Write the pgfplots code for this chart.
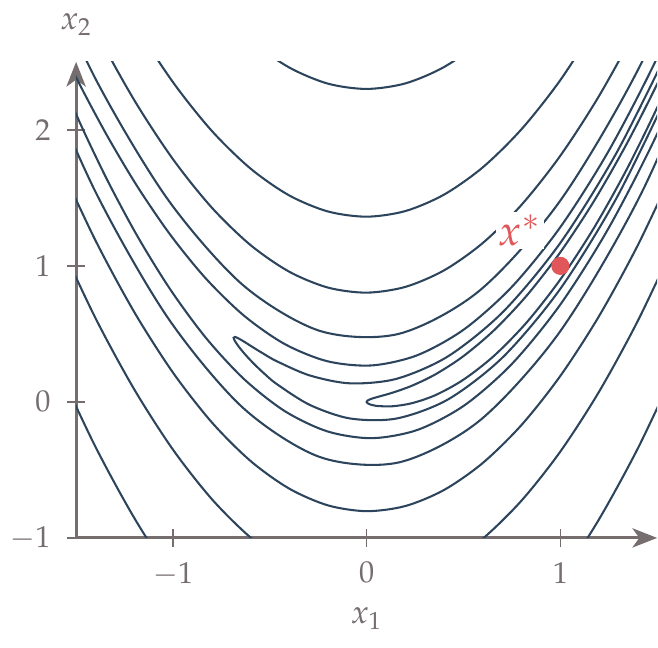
\documentclass[border=0pt]{standalone}
\usepackage{mathpazo}
\usepackage{pgfplots}
\pgfplotsset{compat=1.18}
\usetikzlibrary{arrows.meta}
\definecolor{axisgray}{RGB}{118,110,110}
\definecolor{cline}{RGB}{44,68,92}
\definecolor{optred}{RGB}{225,87,89}
\pgfplotsset{lvl/.style={cline, solid, mark=none, line width=0.75pt, smooth}}
\begin{document}
\begin{tikzpicture}
\path[use as bounding box] (-27.7pt,-40pt) rectangle (211.8pt,195.8pt);
\begin{axis}[
  scale only axis, width=211.5pt, height=173.3pt,
  xmin=-1.5, xmax=1.5, ymin=-1, ymax=2.5,
  axis lines=left,
  axis line style={axisgray, line width=1.1pt, -{Stealth[length=9pt,width=7pt,inset=2.5pt]}},
  xtick={-1,0,1}, ytick={-1,0,1,2},
  tick align=center, major tick length=6.5pt,
  tick style={axisgray, line width=0.5pt},
  tick label style={text=axisgray, font={\fontsize{11pt}{13pt}\selectfont}},
  xticklabel style={yshift=-2pt},
  yticklabel style={xshift=-2.5pt},
  xlabel={$x_1$}, ylabel={$x_2$},
  label style={text=axisgray, font={\fontsize{12pt}{14pt}\selectfont}},
  xlabel style={yshift=-1pt},
  ylabel style={rotate=-90, at={(axis description cs:0,1)}, anchor=south, yshift=6pt},
]
% level 1
\addplot[lvl] coordinates {(1.6428,2.6222) (1.5,2.1634) (1.3420,1.7071) (1.1737,1.2790) (1.0,0.9) (0.8264,0.5844) (0.6580,0.3390) (0.5,0.1634) (0.3572,0.0510) (0.2340,-0.0095) (0.1340,-0.0320) (0.0603,-0.0306) (0.0341,-0.0247) (0.0152,-0.0171) (0.0038,-0.0087) (0,0)
  (0.0038,0.0087) (0.0152,0.0176) (0.0341,0.0270) (0.0603,0.0378) (0.1340,0.0680) (0.2340,0.1190) (0.3572,0.2042) (0.5,0.3366) (0.6580,0.5269) (0.8264,0.7813) (1.0,1.1) (1.1737,1.4759) (1.3420,1.8950) (1.5,2.3366) (1.6428,2.7754)};
% level 2.845
\addplot[lvl] coordinates {(1.5769,2.3281) (1.2929,1.5055) (1.0,0.8313) (0.7071,0.3339) (0.4231,0.0205) (0.1567,-0.1215) (-0.0842,-0.1221) (-0.2921,-0.0231) (-0.4607,0.1279) (-0.5287,0.2082) (-0.5850,0.2846) (-0.6292,0.3523) (-0.6611,0.4077) (-0.6803,0.4481) (-0.6867,0.4716)
  (-0.6803,0.4775) (-0.6611,0.4663) (-0.6292,0.4396) (-0.5850,0.3999) (-0.5287,0.3508) (-0.4607,0.2966) (-0.2921,0.1937) (-0.0842,0.1363) (0.1567,0.1706) (0.4231,0.3375) (0.7071,0.6661) (1.0,1.1687) (1.2929,1.8377) (1.5769,2.6451)};
% level 8.09
\addplot[lvl] coordinates {(-1.5785,2.6119) (-1.4639,2.2851) (-1.3305,1.9334) (-1.1794,1.5738) (-1.0117,1.2248) (-0.8287,0.9048) (-0.6318,0.6323) (-0.4225,0.4249) (-0.2024,0.2988) (0.0270,0.2681) (0.2637,0.3443) (0.5060,0.5362) (0.7520,0.8490) (1.0,1.2845) (1.2480,1.8409) (1.4940,2.5123) (1.7363,3.2897)};
\addplot[lvl] coordinates {(-1.5785,2.3714) (-1.4639,2.0006) (-1.3305,1.6070) (-1.1794,1.2081) (-1.0117,0.8224) (-0.8287,0.4689) (-0.6318,0.1662) (-0.4225,-0.0679) (-0.2024,-0.2169) (0.0270,-0.2666) (0.2637,-0.2053) (0.5060,-0.0242) (0.7520,0.2821) (1.0,0.7155) (1.2480,1.2740) (1.4940,1.9520) (1.7363,2.7401)};
% level 23.0
\addplot[lvl] coordinates {(-1.7526,3.4648) (-1.3995,2.3742) (-1.0282,1.4920) (-0.6414,0.8623) (-0.2421,0.5222) (0.1667,0.5004) (0.5817,0.8165) (1.0,1.4799) (1.4183,2.4896) (1.8334,3.8338)};
\addplot[lvl] coordinates {(-1.7526,2.6785) (-1.3995,1.5430) (-1.0282,0.6222) (-0.6414,-0.0396) (-0.2421,-0.4050) (0.1667,-0.4448) (0.5817,-0.1397) (1.0,0.5201) (1.4183,1.5335) (1.8334,2.8886)};
% level 65.5
\addplot[lvl] coordinates {(-1.6,3.3266) (-1.4,2.7331) (-1.2,2.2190) (-1.0,1.7844) (-0.8,1.4292) (-0.6,1.1535) (-0.4,0.9573) (-0.2,0.8405) (0,0.8032) (0.2,0.8455) (0.4,0.9672) (0.6,1.1685) (0.8,1.4492) (1.0,1.8094) (1.2,2.2492) (1.4,2.7685) (1.6,3.3672)};
\addplot[lvl] coordinates {(-1.6,1.7935) (-1.4,1.1870) (-1.2,0.6610) (-1.0,0.2157) (-0.8,-0.1492) (-0.6,-0.4335) (-0.4,-0.6373) (-0.2,-0.7605) (0,-0.8032) (0.2,-0.7655) (0.4,-0.6472) (0.6,-0.4485) (0.8,-0.1692) (1.0,0.1906) (1.2,0.6308) (1.4,1.1515) (1.6,1.7528)};
% level 186
\addplot[lvl] coordinates {(-1.6,3.9003) (-1.4,3.3040) (-1.2,2.7874) (-1.0,2.3506) (-0.8,1.9934) (-0.6,1.7159) (-0.4,1.5181) (-0.2,1.4000) (0,1.3616) (0.2,1.4029) (0.4,1.5240) (0.6,1.7247) (0.8,2.0051) (1.0,2.3653) (1.2,2.8051)};
\addplot[lvl] coordinates {(-1.6,1.2197) (-1.4,0.6160) (-1.2,0.0926) (-1.0,-0.3506) (-0.8,-0.7134) (-0.6,-0.9959) (-0.4,-1.1981) (-0.2,-1.3200) (0,-1.3616) (0.2,-1.3229) (0.4,-1.2040) (0.6,-1.0047) (0.8,-0.7251) (1.0,-0.3653) (1.2,0.0749) (1.4,0.5953) (1.6,1.1960)};
% level 530
\addplot[lvl] coordinates {(-0.8,2.9358) (-0.6,2.6573) (-0.4,2.4586) (-0.2,2.3397) (0,2.3007) (0.2,2.3414) (0.4,2.4620) (0.6,2.6625) (0.8,2.9427)};
\addplot[lvl] coordinates {(-1.6,0.2719) (-1.4,-0.3303) (-1.2,-0.8523) (-1.0,-1.2941) (-0.8,-1.6558)};
\addplot[lvl] coordinates {(0.8,-1.6627) (1.0,-1.3028) (1.2,-0.8627) (1.4,-0.3425) (1.6,0.2580)};
% minimum
\addplot[only marks, mark=*, mark size=3.1pt, color=optred, mark options={fill=optred, draw=optred}] coordinates {(1,1)};
\node[fill=white, inner sep=1pt, text=optred, font={\fontsize{15.5pt}{18pt}\selectfont}] at (axis cs:0.79,1.26) {$x^*$};
\end{axis}
\end{tikzpicture}
\end{document}
